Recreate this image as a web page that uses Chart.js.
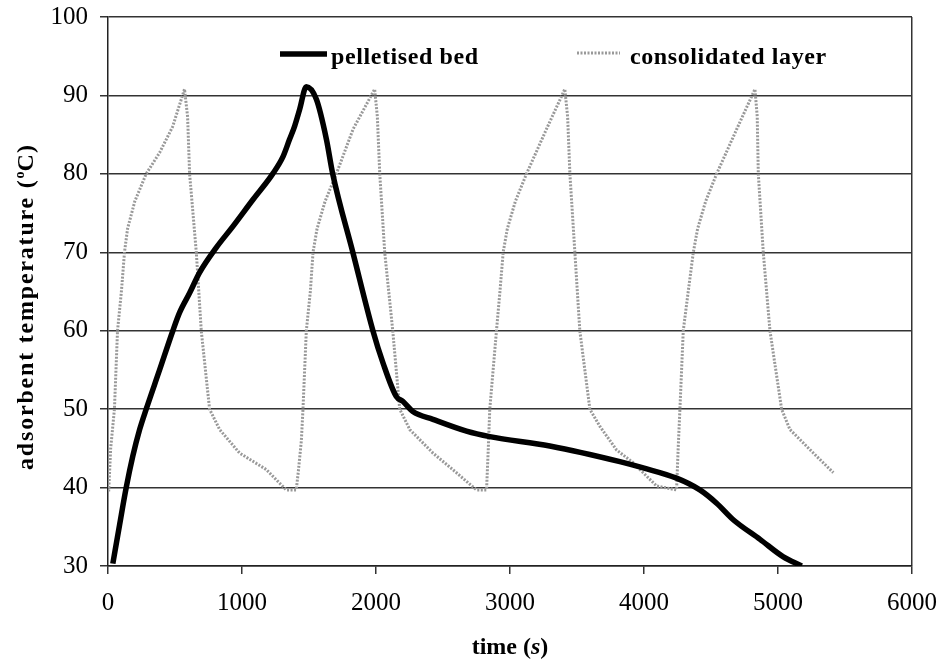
<!DOCTYPE html>
<html>
<head>
<meta charset="utf-8">
<script src="https://cdn.jsdelivr.net/npm/chart.js@4/dist/chart.umd.min.js"></script>
<style>
  html, body { margin: 0; padding: 0; background: #fff; }
  canvas { display: block; }
</style>
</head>
<body>
<canvas id="grafico" width="939" height="662"></canvas>
<script>
// DATA
const xTicks = [0, 1000, 2000, 3000, 4000, 5000, 6000];
const yTicks = [30, 40, 50, 60, 70, 80, 90, 100];

const pelletTime = [36, 86, 136, 185, 236, 285, 385, 484, 534, 609, 683, 808, 932, 1081, 1229, 1306, 1355, 1393, 1430, 1480, 1555, 1630, 1677, 1827, 1977, 2052, 2152, 2200, 2275, 2425, 2675, 2849, 3297, 3820, 3994, 4243, 4417, 4542, 4666, 4866, 5037, 5177];
const pelletTemp = [30.3, 35.2, 40, 44, 47.4, 50, 55, 60, 62.3, 64.8, 67.4, 70.6, 73.3, 76.7, 80, 82.2, 84.4, 86.1, 88.2, 91.1, 89.5, 84.4, 80, 70, 60, 55.9, 51.6, 51, 49.7, 48.7, 47.2, 46.5, 45.3, 43.3, 42.5, 41.2, 39.7, 38.0, 35.9, 33.4, 31.2, 30];

const layerTime = [
  5, 20, 48, 71, 100, 123, 146, 200, 285, 385, 482, 571, 594, 609, 659, 696, 758, 833, 982, 1181, 1331, 1405,
  1420, 1443, 1455, 1480, 1510, 1530, 1560, 1620, 1704, 1829, 1990, 2010, 2028, 2065, 2125, 2177, 2252, 2425, 2600, 2750, 2825,
  2838, 2849, 2899, 2925, 2949, 2980, 3040, 3123, 3272, 3409, 3430, 3447, 3484, 3521, 3596, 3671, 3795, 3917, 4094, 4243,
  4255, 4268, 4293, 4330, 4368, 4400, 4460, 4542, 4692, 4828, 4845, 4853, 4890, 4940, 5027, 5089, 5264, 5413
];
const layerTemp = [
  39.5, 45, 50, 60, 65, 70, 73, 76.5, 80, 82.7, 86, 90.8, 87.3, 80, 70, 60, 50, 47.4, 44.4, 42.3, 39.7, 39.7,
  42, 46, 50, 60, 65, 70, 73, 76.5, 80, 85.7, 90.8, 87.3, 80, 70, 60, 50, 47.4, 44.4, 41.9, 39.7, 39.7,
  45, 50, 60, 65, 70, 73, 76.5, 80, 85.7, 90.8, 87.3, 80, 70, 60, 50, 47.8, 44.8, 43.2, 40.2, 39.7,
  45, 50, 60, 65, 70, 73, 76.5, 80, 85.7, 90.8, 87.3, 80, 70, 60, 50, 47.4, 44.4, 41.9
];

const nomes = ["pelletised bed", "consolidated layer"];

const pontos = (xs, ys) => xs.map((x, i) => ({ x, y: ys[i] }));

const serif = "'Liberation Serif', 'Times New Roman', serif";

// texto em partes (negrito, itálico, sobrescrito)
function desenharPartes(c, partes, x, y) {
  let total = 0;
  partes.forEach((p) => {
    c.font = p.f;
    c.letterSpacing = p.ls || "0px";
    p.w = c.measureText(p.t).width;
    total += p.w;
  });
  let pos = x - total / 2;
  partes.forEach((p) => {
    c.font = p.f;
    c.letterSpacing = p.ls || "0px";
    c.fillText(p.t, pos, y + (p.dy || 0));
    pos += p.w;
  });
}

const extras = {
  id: "extras",
  afterDraw(chart) {
    const c = chart.ctx;
    const ds = chart.data.datasets;
    c.save();
    c.fillStyle = "#000";
    c.textBaseline = "alphabetic";
    c.textAlign = "left";

    // legenda
    c.lineCap = "butt";
    c.strokeStyle = ds[0].borderColor;
    c.lineWidth = ds[0].borderWidth;
    c.beginPath();
    c.moveTo(280, 54);
    c.lineTo(327, 54);
    c.stroke();

    c.strokeStyle = ds[1].borderColor;
    c.lineWidth = ds[1].borderWidth;
    c.setLineDash(ds[1].borderDash);
    c.beginPath();
    c.moveTo(577, 53);
    c.lineTo(620, 53);
    c.stroke();
    c.setLineDash([]);

    c.font = "bold 24px " + serif;
    c.letterSpacing = "0.6px";
    c.fillText(nomes[0], 331, 64);
    c.fillText(nomes[1], 630, 64);

    // título do eixo x
    desenharPartes(c, [
      { t: "time (", f: "bold 24px " + serif },
      { t: "s", f: "italic bold 24px " + serif },
      { t: ")", f: "bold 24px " + serif },
    ], 510, 654);

    // título do eixo y
    c.translate(33, 307);
    c.rotate(-Math.PI / 2);
    desenharPartes(c, [
      { t: "adsorbent temperature (", f: "bold 24px " + serif, ls: "1.8px" },
      { t: "o", f: "bold 14px " + serif, dy: -9 },
      { t: "C)", f: "bold 24px " + serif, ls: "1px" },
    ], 0, 0);
    c.restore();
  },
};

let grafico = new Chart(document.querySelector("#grafico"), {
  type: "line",
  data: {
    datasets: [
      {
        label: nomes[0],
        data: pontos(pelletTime, pelletTemp),
        borderColor: "#000",
        borderWidth: 5.5,
        pointRadius: 0,
        cubicInterpolationMode: "monotone",
      },
      {
        label: nomes[1],
        data: pontos(layerTime, layerTemp),
        borderColor: "#999",
        borderWidth: 3,
        borderDash: [2, 1.5],
        pointRadius: 0,
        tension: 0,
      },
    ],
  },
  options: {
    responsive: false,
    animation: false,
    devicePixelRatio: 1,
    layout: { padding: { top: 17, right: 27, left: 0, bottom: 0 } },
    plugins: { legend: { display: false }, tooltip: { enabled: false } },
    scales: {
      x: {
        type: "linear",
        min: 0,
        max: 6000,
        afterBuildTicks: (s) => { s.ticks = xTicks.map((v) => ({ value: v })); },
        afterFit: (s) => { s.height = 96; s.paddingLeft = 0; s.paddingRight = 0; },
        ticks: { color: "#000", font: { family: serif, size: 25 }, padding: 14, maxRotation: 0, callback: (v) => String(v) },
        grid: {
          color: (ctx) => (ctx.tick && ctx.tick.value === 6000 ? "#333" : "transparent"),
          tickColor: "#333",
          lineWidth: 1.5,
          tickLength: 8,
        },
        border: { color: "#222", width: 1.5 },
      },
      y: {
        min: 30,
        max: 100,
        afterBuildTicks: (s) => { s.ticks = yTicks.map((v) => ({ value: v })); },
        afterFit: (s) => { s.width = 108; s.paddingTop = 0; s.paddingBottom = 0; },
        ticks: { color: "#000", font: { family: serif, size: 25 }, padding: 12, callback: (v) => String(v) },
        grid: { color: "#333", tickColor: "#333", lineWidth: 1.5, tickLength: 8 },
        border: { color: "#222", width: 1.5 },
      },
    },
  },
  plugins: [extras],
});
</script>
</body>
</html>
